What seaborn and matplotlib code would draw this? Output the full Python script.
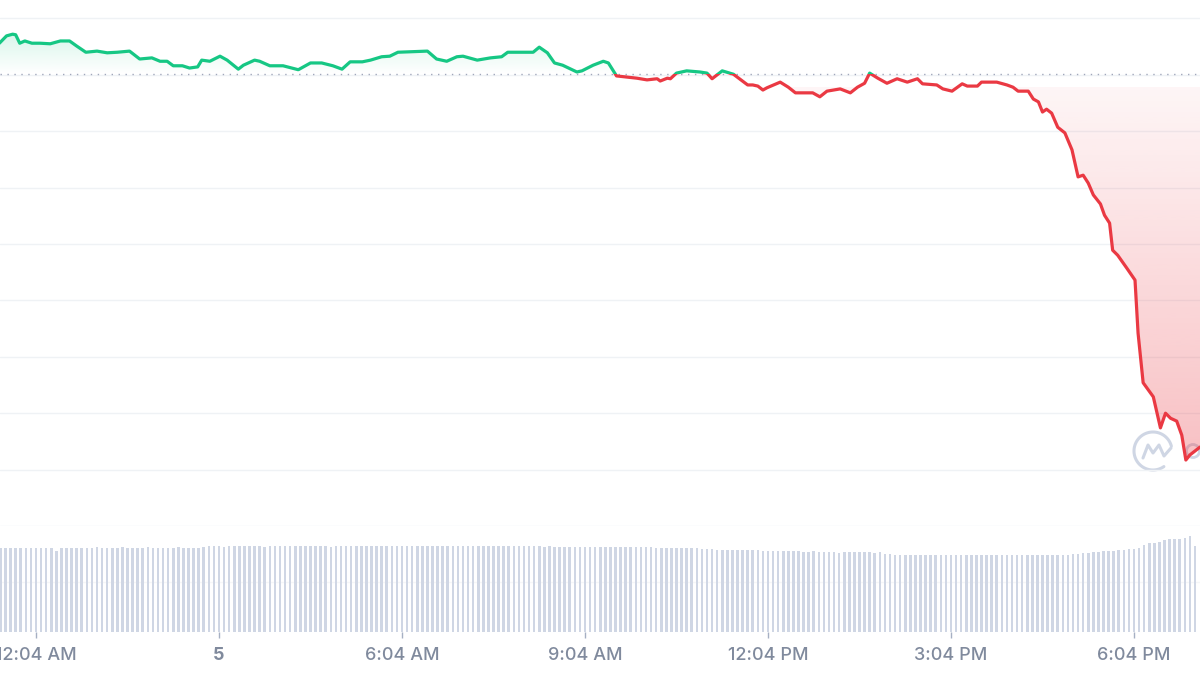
import numpy as np
import pandas as pd
import seaborn as sns
import matplotlib.pyplot as plt
from matplotlib.colors import to_rgb
from matplotlib.patches import Rectangle, Circle
from matplotlib.path import Path

# price line, minutes after 12:04 AM (values in grid units)
minutes = [-36, -29, -23, -20, -16, -11, -4, 4, 14, 24, 33, 40, 49, 60, 70, 80, 92, 102,
           114, 122, 129, 135, 144, 151, 159, 163, 171, 181, 188, 199, 204, 215, 220, 230,
           243, 258, 270, 281, 292, 301, 309, 321, 329, 340, 348, 356, 385, 394, 404, 414,
           420, 434, 447, 458, 464, 489, 495, 503, 510, 518, 532, 537, 548, 558, 563, 571,
           581, 591, 601, 611, 614, 621, 624, 630, 640, 653, 660, 665, 675, 686, 700, 705,
           710, 715, 719, 732, 740, 747, 751, 764, 771, 778, 791, 801, 808, 815, 820, 828,
           837, 847, 857, 867, 872, 886, 892, 901, 911, 916, 926, 930, 945, 955, 961, 966,
           976, 981, 986, 990, 994, 999, 1005, 1012, 1019, 1025, 1030, 1035, 1040, 1047,
           1051, 1056, 1059, 1064, 1073, 1081, 1084, 1089, 1099, 1106, 1111, 1116, 1122,
           1127, 1131, 1135, 1140, 1145]
price = [8.56, 8.69, 8.72, 8.71, 8.56, 8.60, 8.56, 8.56, 8.55, 8.60, 8.60, 8.51, 8.40, 8.42,
         8.39, 8.40, 8.42, 8.28, 8.30, 8.24, 8.24, 8.16, 8.16, 8.12, 8.14, 8.26, 8.24, 8.33,
         8.26, 8.10, 8.17, 8.26, 8.24, 8.16, 8.16, 8.09, 8.21, 8.21, 8.16, 8.10, 8.23, 8.23,
         8.26, 8.32, 8.33, 8.40, 8.42, 8.28, 8.24, 8.32, 8.33, 8.26, 8.30, 8.32, 8.40, 8.40,
         8.49, 8.39, 8.21, 8.17, 8.05, 8.07, 8.17, 8.24, 8.21, 7.98, 7.96, 7.94, 7.91, 7.93,
         7.89, 7.94, 7.93, 8.03, 8.07, 8.05, 8.03, 7.93, 8.07, 8.01, 7.82, 7.82, 7.80, 7.73,
         7.77, 7.87, 7.78, 7.68, 7.68, 7.68, 7.61, 7.71, 7.75, 7.68, 7.78, 7.85, 8.03, 7.94,
         7.85, 7.93, 7.87, 7.93, 7.84, 7.82, 7.75, 7.71, 7.84, 7.80, 7.80, 7.87, 7.87, 7.82,
         7.78, 7.71, 7.71, 7.57, 7.52, 7.34, 7.39, 7.32, 7.07, 6.97, 6.67, 6.19, 6.22, 6.08,
         5.87, 5.71, 5.51, 5.37, 4.89, 4.80, 4.57, 4.36, 3.42, 2.54, 2.29, 1.74, 2.00, 1.91,
         1.86, 1.61, 1.17, 1.26, 1.33, 1.40]
open_price = 8.02

# 5 minute volume bars
vol_minutes = list(range(-35, 1141, 5))
volume = [84, 84, 84, 84, 84, 84, 84,
          84, 84, 84, 84, 81, 84, 84, 84, 84, 84,
          84, 84, 85, 84, 84, 84, 84, 85, 84, 84, 84, 84, 85, 84, 84, 84, 84, 84, 85, 84,
          84, 84, 84, 85,
          86, 86, 86, 85, 86, 86, 86, 86, 86, 86, 86, 85, 86, 86, 86, 86, 86, 86, 86, 86,
          86, 86, 86, 86, 85, 86, 86, 86, 86, 86, 86, 86, 86, 86, 86, 86, 86, 86, 86, 86,
          86, 86, 86, 86, 86, 86, 86, 86, 86, 86, 86, 86, 86, 86, 86, 86, 86, 86, 86, 86,
          86, 86, 86, 86, 86, 86, 85,
          86, 85, 85, 85, 85, 85, 85, 85, 85, 85, 85, 85, 85, 85, 85, 85, 85, 85, 85, 85,
          85, 84, 84, 84, 84, 84, 84, 84, 84, 84,
          83, 83, 83, 82, 82, 82, 82, 82, 82, 82, 82, 82, 81, 81, 81, 81, 81, 81, 81, 81,
          80, 80, 81, 80, 80, 80, 80, 79, 80, 80, 80, 80, 80, 80, 79, 80,
          78, 78, 77, 77, 77, 77, 77, 77, 77, 77, 77, 77, 77, 77, 77, 77, 77, 77, 77, 77,
          77, 77, 77, 77, 77, 77, 77, 77, 77, 77, 77, 77, 77,
          77, 77, 77, 77, 78, 78, 79, 79, 80, 80, 81, 81, 81, 82, 82, 83, 83, 84, 87, 89,
          89, 90, 92, 93, 93, 93, 94, 96, 86]

tick_minutes = [0, 180, 360, 540, 720, 900, 1080]
tick_labels = ["12:04 AM", "5", "6:04 AM", "9:04 AM", "12:04 PM", "3:04 PM", "6:04 PM"]

GREEN = "#16c784"
RED = "#ea3943"
GRID = "#eff2f5"
VOL = "#cfd6e4"
TXT = "#808a9d"

sns.set_style("white")
plt.rcParams['font.family'] = ['Inter', 'DejaVu Sans']

fig = plt.figure(figsize=(12, 6.75), dpi=100)
fig.patch.set_facecolor("white")
xlim = (-35.41, 1144.92)

# background layer for the watermark
bg = fig.add_axes([0, 0, 1, 1], zorder=0)
bg.set_xlim(0, 1200)
bg.set_ylim(675, 0)
bg.axis("off")
theta = np.radians(np.linspace(15, 305, 80))
bg.plot(1153 + 19 * np.cos(theta), 451 - 19 * np.sin(theta), color=VOL, lw=2.2,
        solid_capstyle="round")
bg.plot([1143, 1148, 1153, 1159, 1164, 1171], [458, 445, 453, 445, 456, 448],
        color=VOL, lw=2.2, solid_capstyle="round", solid_joinstyle="round")
bg.add_patch(Circle((1193, 451), 6.5, fill=False, edgecolor=VOL, lw=2))

# price panel
ax = fig.add_axes([0, 149 / 675, 1, 526 / 675], zorder=2)
ax.set_facecolor("none")
for v in range(10):
    ax.axhline(v, color=GRID, lw=1, zorder=0)
ax.axhline(open_price, color="#a1a7bb", lw=1, ls=(0, (1, 4)), zorder=1)

df = pd.DataFrame({"minute": minutes, "price": price})

poly = ax.fill_between(minutes, price, open_price, facecolor="none", edgecolor="none")
clip = Path.make_compound_path(*poly.get_paths())

g_img = np.zeros((100, 1, 4))
g_img[..., :3] = to_rgb(GREEN)
g_img[..., 3] = np.linspace(0.0, 0.16, 100)[:, None]
im = ax.imshow(g_img, extent=(xlim[0], xlim[1], open_price, max(price)), origin="lower",
               aspect="auto", interpolation="bilinear", zorder=1)
im.set_clip_path(clip, transform=ax.transData)

r_img = np.zeros((100, 1, 4))
r_img[..., :3] = to_rgb(RED)
r_img[..., 3] = np.linspace(0.32, 0.05, 100)[:, None]
im = ax.imshow(r_img, extent=(xlim[0], xlim[1], 1.1, 7.77), origin="lower",
               aspect="auto", interpolation="bilinear", zorder=1)
im.set_clip_path(clip, transform=ax.transData)

sns.lineplot(data=df, x="minute", y="price", color=GREEN, lw=2.3, ax=ax, zorder=3)
ax.lines[-1].set_clip_path(Rectangle((-100, open_price), 1400, 10, transform=ax.transData))
sns.lineplot(data=df, x="minute", y="price", color=RED, lw=2.3, ax=ax, zorder=3)
ax.lines[-1].set_clip_path(Rectangle((-100, open_price - 10), 1400, 10, transform=ax.transData))

ax.set_xlim(*xlim)
ax.set_ylim(0, 526 / 56.4)
ax.set_xticks([])
ax.set_yticks([])
ax.set_xlabel("")
ax.set_ylabel("")
sns.despine(ax=ax, left=True, bottom=True)

# volume panel
axv = fig.add_axes([0, 43 / 675, 1, 106 / 675], zorder=1)
axv.set_facecolor("none")
axv.axhline(50, color="#f5f6f8", lw=1, zorder=0)
dfv = pd.DataFrame({"minute": vol_minutes, "volume": volume})
sns.barplot(data=dfv, x="minute", y="volume", native_scale=True, width=0.5, color=VOL,
            saturation=1, errorbar=None, ax=axv, linewidth=0)
axv.set_xlim(*xlim)
axv.set_ylim(0, 106)
axv.set_yticks([])
axv.set_xticks(tick_minutes)
axv.set_xticklabels(tick_labels)
axv.tick_params(axis="x", length=4.3, width=1, color="#a6b0c3", pad=6.5,
                labelsize=13, labelcolor=TXT, bottom=True)
for lab in axv.get_xticklabels():
    lab.set_fontweight("medium")
    if lab.get_text() == "5":
        lab.set_fontweight("bold")
axv.set_xlabel("")
axv.set_ylabel("")
sns.despine(ax=axv, left=True, bottom=True)

fig.savefig("out.png", dpi=100)
